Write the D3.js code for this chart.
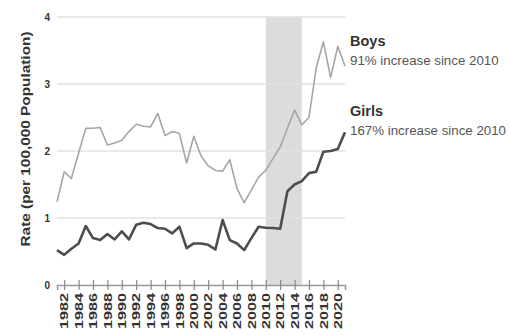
<!DOCTYPE html>
<html>
<head>
<meta charset="utf-8">
<script src="https://cdn.jsdelivr.net/npm/d3@7"></script>
<style>
  html, body { margin: 0; padding: 0; background: #fff; }
  svg { display: block; font-family: "Liberation Sans", Arial, sans-serif; }
</style>
</head>
<body>
<svg id="chart" width="510" height="335"></svg>
<script>
// Annual rates per 100,000, 1981–2021
const years = d3.range(1981, 2022);
const boys = [1.24, 1.69, 1.59, 1.97, 2.34, 2.34, 2.35, 2.09, 2.12, 2.16,
              2.29, 2.40, 2.37, 2.36, 2.56, 2.23, 2.29, 2.26, 1.82, 2.22,
              1.93, 1.78, 1.71, 1.70, 1.87, 1.44, 1.23, 1.42, 1.61, 1.71,
              1.89, 2.06, 2.34, 2.61, 2.39, 2.50, 3.24, 3.63, 3.10, 3.56, 3.27];
const girls = [0.52, 0.45, 0.54, 0.62, 0.88, 0.70, 0.67, 0.76, 0.68, 0.80,
               0.68, 0.90, 0.93, 0.91, 0.85, 0.84, 0.77, 0.87, 0.55, 0.62,
               0.62, 0.60, 0.53, 0.97, 0.67, 0.62, 0.52, 0.70, 0.87, 0.855,
               0.85, 0.84, 1.40, 1.50, 1.55, 1.67, 1.69, 1.99, 2.00, 2.03, 2.28];
const yTicks = [0, 1, 2, 3, 4];
const xTickYears = d3.range(1982, 2021, 2);
const shadedPeriod = [2010, 2015];
const seriesNames = ["Boys", "Girls"];
const seriesNotes = ["91% increase since 2010", "167% increase since 2010"];
const yTitle = "Rate (per 100,000 Population)";

const svg = d3.select("#chart");
const x = d3.scaleLinear().domain([1981, 2021]).range([57, 345]);
const y = d3.scaleLinear().domain([0, 4]).range([285, 17]);

// shaded period
svg.append("rect")
  .attr("x", x(shadedPeriod[0]))
  .attr("y", y(4))
  .attr("width", x(shadedPeriod[1]) - x(shadedPeriod[0]))
  .attr("height", y(0) - y(4))
  .attr("fill", "#dcdcdc");

// horizontal gridlines
svg.append("g").selectAll("line")
  .data(yTicks.filter(d => d > 0))
  .join("line")
  .attr("x1", x(1981)).attr("x2", x(2021))
  .attr("y1", d => y(d)).attr("y2", d => y(d))
  .attr("stroke", "#e2e2e2").attr("stroke-width", 1.5);

// y tick labels
svg.append("g").selectAll("text")
  .data(yTicks)
  .join("text")
  .attr("x", 50).attr("y", d => y(d) + 3.5)
  .attr("text-anchor", "end")
  .attr("font-size", 10).attr("font-weight", "bold")
  .attr("fill", "#333")
  .text(d => d);

// y title
svg.append("text")
  .attr("transform", `translate(30,139) rotate(-90)`)
  .attr("text-anchor", "middle")
  .attr("font-size", 13).attr("font-weight", "bold")
  .attr("fill", "#333")
  .attr("textLength", 215).attr("lengthAdjust", "spacingAndGlyphs")
  .text(yTitle);

// x axis
const xAxis = d3.axisBottom(x)
  .tickValues(xTickYears)
  .tickFormat(d3.format("d"))
  .tickSize(5);
const gx = svg.append("g").attr("transform", `translate(0,${y(0)})`).call(xAxis);
gx.select(".domain").attr("stroke", "#999").attr("stroke-width", 1.5);
gx.selectAll(".tick line").attr("stroke", "#888").attr("stroke-width", 1.2)
  .attr("y1", -5).attr("y2", 5);
gx.selectAll(".tick text")
  .attr("font-family", "Liberation Sans, Arial, sans-serif")
  .attr("font-size", 10.5).attr("font-weight", "bold").attr("fill", "#333")
  .attr("text-anchor", "end")
  .attr("dy", null)
  .attr("y", 0)
  .attr("textLength", 36).attr("lengthAdjust", "spacingAndGlyphs")
  .attr("transform", "translate(3.7,8) rotate(-90)");

// lines
const line = d3.line().x((d, i) => x(years[i])).y(d => y(d));
svg.append("path").datum(boys)
  .attr("d", line).attr("fill", "none")
  .attr("stroke", "#a6a6a6").attr("stroke-width", 1.6)
  .attr("stroke-linejoin", "round");
svg.append("path").datum(girls)
  .attr("d", line).attr("fill", "none")
  .attr("stroke", "#4d4d4d").attr("stroke-width", 2.6)
  .attr("stroke-linejoin", "round");

// series annotations
const notes = svg.append("g");
[[seriesNames[0], seriesNotes[0], 46], [seriesNames[1], seriesNotes[1], 116]].forEach(([name, note, base]) => {
  notes.append("text").attr("x", 350).attr("y", base)
    .attr("font-size", 14.5).attr("font-weight", "bold").attr("fill", "#333")
    .text(name);
  notes.append("text").attr("x", 350).attr("y", base + 19)
    .attr("font-size", 13.3).attr("fill", "#555")
    .text(note);
});
</script>
</body>
</html>
